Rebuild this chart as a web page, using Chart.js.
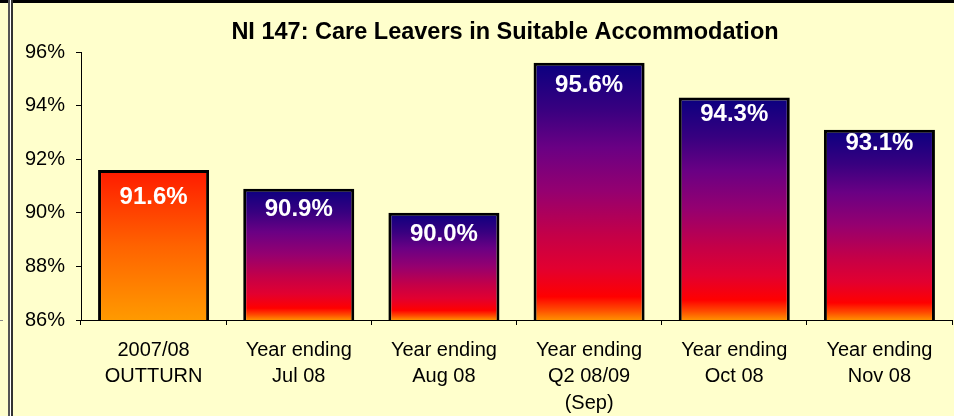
<!DOCTYPE html>
<html>
<head>
<meta charset="utf-8">
<title>NI 147: Care Leavers in Suitable Accommodation</title>
<script src="https://cdn.jsdelivr.net/npm/chart.js@4/dist/chart.umd.min.js"></script>
<style>
    html, body { margin: 0; padding: 0; background: #FFFFCC; }
    #wrap { position: relative; width: 954px; height: 416px; overflow: hidden; background: #FFFFCC; }
    #niChart { position: absolute; left: 0; top: 0; }
    .frame { position: absolute; z-index: 2; }
</style>
</head>
<body>
<div id="wrap">
    <canvas id="niChart" width="954" height="416"></canvas>
    <!-- sheet frame bits round the chart -->
    <div class="frame" style="left:0; top:0; width:954px; height:3px; background:#000;"></div>
    <div class="frame" style="left:8px; top:0; width:2px; height:416px; background:#555;"></div>
    <div class="frame" style="left:10px; top:0; width:1px; height:416px; background:#fff;"></div>
    <div class="frame" style="left:11px; top:0; width:2px; height:416px; background:#333;"></div>
    <div class="frame" style="left:0; top:320px; width:3px; height:1px; background:#888;"></div>
</div>
<script>
// Data
const chartTitle = 'NI 147: Care Leavers in Suitable Accommodation';
const categories = [
    ['2007/08', 'OUTTURN'],
    ['Year ending', 'Jul 08'],
    ['Year ending', 'Aug 08'],
    ['Year ending', 'Q2 08/09', '(Sep)'],
    ['Year ending', 'Oct 08'],
    ['Year ending', 'Nov 08']
];
const values = [91.6, 90.9, 90.0, 95.6, 94.3, 93.1];
const yMin = 86;
const yMax = 96;
const yStep = 2;

// label offsets below each bar top (px), as placed in the original
const labelOffsets = [27, 21, 22, 23, 17, 14];

function barFill(context) {
    const chart = context.chart;
    const area = chart.chartArea;
    if (!area || context.type !== 'data') return '#6a0080';
    const yScale = chart.scales.y;
    const top = yScale.getPixelForValue(context.parsed.y);
    const bottom = yScale.getPixelForValue(yScale.min);
    const g = chart.ctx.createLinearGradient(0, top, 0, bottom);
    if (context.dataIndex === 0) {
        // outturn bar: red to orange
        g.addColorStop(0, '#FF1A00');
        g.addColorStop(0.5, '#FF6200');
        g.addColorStop(1, '#FF9A00');
    } else {
        g.addColorStop(0, '#0A0080');
        g.addColorStop(0.18, '#380080');
        g.addColorStop(0.33, '#6A0084');
        g.addColorStop(0.5, '#950070');
        g.addColorStop(0.67, '#C40048');
        g.addColorStop(0.8, '#E20030');
        g.addColorStop(0.91, '#FF0000');
        g.addColorStop(0.96, '#FF4A00');
        g.addColorStop(1, '#FF9000');
    }
    return g;
}

const valueLabelPlugin = {
    id: 'valueLabels',
    afterDatasetsDraw(chart) {
        const ctx = chart.ctx;
        const meta = chart.getDatasetMeta(0);
        ctx.save();
        ctx.fillStyle = '#FFFFFF';
        ctx.font = 'bold 24px "Liberation Sans", Arial, sans-serif';
        ctx.textAlign = 'center';
        ctx.textBaseline = 'middle';
        meta.data.forEach((bar, i) => {
            ctx.fillText(values[i].toFixed(1) + '%', bar.x, bar.y + labelOffsets[i]);
        });
        ctx.restore();
    }
};

const titlePlugin = {
    id: 'sheetTitle',
    afterDraw(chart) {
        const ctx = chart.ctx;
        ctx.save();
        ctx.fillStyle = '#000';
        ctx.font = 'bold 23.5px "Liberation Sans", Arial, sans-serif';
        ctx.textAlign = 'center';
        ctx.textBaseline = 'middle';
        ctx.fillText(chartTitle, 505, 33);
        ctx.restore();
    }
};

const tickFont = { family: '"Liberation Sans", Arial, sans-serif', size: 20 };

new Chart(document.getElementById('niChart').getContext('2d'), {
    type: 'bar',
    data: {
        labels: categories,
        datasets: [{
            data: values,
            backgroundColor: barFill,
            borderColor: '#000',
            borderWidth: 3,
            borderSkipped: false,
            categoryPercentage: 1,
            barPercentage: 0.765
        }]
    },
    options: {
        responsive: false,
        animation: false,
        layout: { padding: { top: 52, right: 2, left: 0, bottom: 0 } },
        plugins: {
            legend: { display: false },
            tooltip: { enabled: false },
            title: { display: false }
        },
        scales: {
            x: {
                grid: { offset: true, drawOnChartArea: false, drawTicks: true, tickLength: 5, color: '#000' },
                border: { color: '#000', width: 1 },
                ticks: { color: '#000', font: { ...tickFont, lineHeight: 1.33 }, padding: 12, maxRotation: 0, autoSkip: false },
                afterFit: (scale) => { scale.height = 96; }
            },
            y: {
                min: yMin,
                max: yMax,
                grid: { drawOnChartArea: false, drawTicks: true, tickLength: 5, color: '#000' },
                border: { color: '#000', width: 1 },
                ticks: {
                    stepSize: yStep,
                    color: '#000',
                    font: tickFont,
                    padding: 11,
                    callback: (v) => v + '%'
                },
                afterFit: (scale) => { scale.width = 81; }
            }
        }
    },
    plugins: [valueLabelPlugin, titlePlugin]
});
</script>
</body>
</html>
